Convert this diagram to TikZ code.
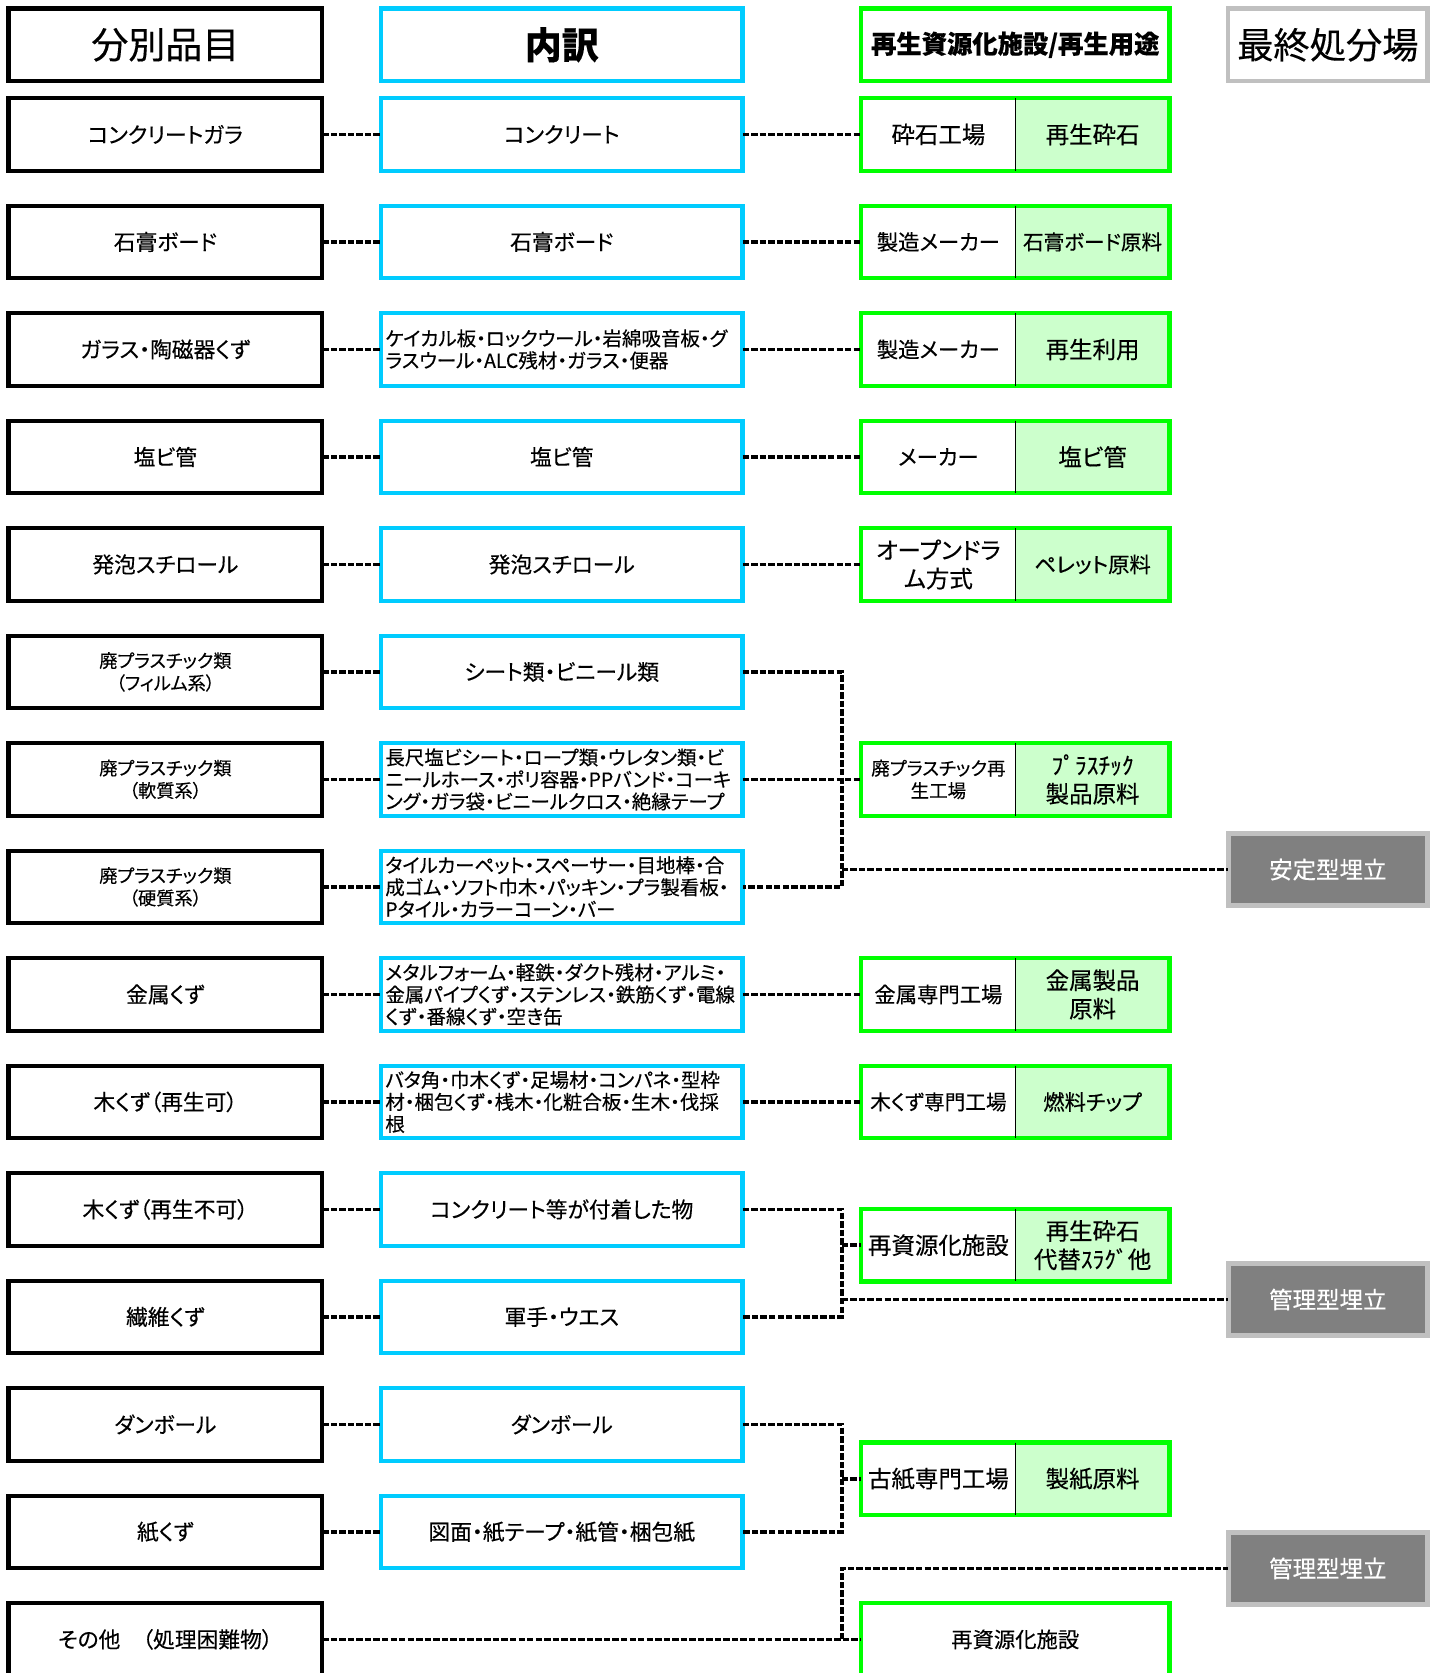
\documentclass[tikz,border=0pt]{standalone}
\usepackage{fontspec}
\setmainfont{Noto Sans CJK JP}[RawFeature=+palt,FakeBold=0.3]

\definecolor{boxcyan}{RGB}{0,204,255}
\definecolor{boxgreen}{RGB}{0,255,0}
\definecolor{palegreen}{RGB}{204,255,204}
\definecolor{pitgray}{RGB}{128,128,128}
\definecolor{rimgray}{RGB}{192,192,192}

\tikzset{every picture/.style={line width=0.75pt}}
\tikzset{
  catbox/.style={draw=black,line width=3pt,fill=white,minimum width=220.5pt,minimum height=51pt,
    inner sep=0pt,outer sep=0pt,align=center,font=\fontsize{15.3}{18}\selectfont},
  catsmall/.style={font=\fontsize{12.8}{15.75}\selectfont},
  detbox/.style={draw=boxcyan,line width=3pt,fill=white,minimum width=254.25pt,minimum height=51pt,
    inner sep=0pt,outer sep=0pt,align=center,font=\fontsize{15.3}{18}\selectfont},
  detlong/.style={align=left,text width=248pt,font=\fontsize{13.7}{15.5}\selectfont},
  facbox/.style={minimum width=108.75pt,minimum height=51pt,inner sep=0pt,outer sep=0pt,
    align=center,font=\fontsize{16.5}{20}\selectfont},
  usebox/.style={fill=palegreen,minimum width=108pt,minimum height=51pt,inner sep=0pt,outer sep=0pt,
    align=center,font=\fontsize{16.5}{20}\selectfont},
  grnbox/.style={draw=boxgreen,line width=3pt,fill=white,minimum width=216.75pt,minimum height=51pt,
    inner sep=0pt,outer sep=0pt,align=center,font=\fontsize{15}{18}\selectfont},
  grnline/.style={draw=boxgreen,line width=3pt},
  pitbox/.style={fill=pitgray,draw=rimgray,line width=3.5pt,text=white,minimum width=140.25pt,
    minimum height=51pt,inner sep=0pt,outer sep=0pt,font=\fontsize{16.5}{20}\selectfont},
  dashlink/.style={line width=2.4pt,dash pattern=on 4.5pt off 1.5pt}
}

\begin{document}
\begin{tikzpicture}[x=0.75pt,y=0.75pt,yscale=-1,xscale=1]
\clip (0,0) rectangle (1347,1568);

% Header row
\node[catbox,font=\fontsize{26}{30}\selectfont] (cat0) at (155,42) {分別品目};
\node[detbox,font=\bfseries\fontsize{26}{30}\selectfont] (det0) at (526.5,42) {内訳};
\node[grnbox,font=\bfseries\fontsize{17.8}{20}\selectfont] (fac0) at (951.5,42) {再生資源化施設/再生用途};
\node[draw=rimgray,line width=3pt,minimum width=140.25pt,minimum height=51pt,inner sep=0pt,
  outer sep=0pt,font=\fontsize{25.5}{30}\selectfont] (land0) at (1244.5,42) {最終処分場};

% Text Node -- sorted items
\node[catbox] (cat1) at (155,126) {コンクリートガラ};
\node[catbox] (cat2) at (155,226.75) {石膏ボード};
\node[catbox] (cat3) at (155,327.5) {ガラス・陶磁器くず};
\node[catbox] (cat4) at (155,428.25) {塩ビ管};
\node[catbox] (cat5) at (155,529) {発泡スチロール};
\node[catbox,catsmall] (cat6) at (155,629.75) {廃プラスチック類\\（フィルム系）};
\node[catbox,catsmall] (cat7) at (155,730.5) {廃プラスチック類\\（軟質系）};
\node[catbox,catsmall] (cat8) at (155,831.25) {廃プラスチック類\\（硬質系）};
\node[catbox] (cat9) at (155,932) {金属くず};
\node[catbox] (cat10) at (155,1032.75) {木くず（再生可）};
\node[catbox] (cat11) at (155,1133.5) {木くず（再生不可）};
\node[catbox] (cat12) at (155,1234.25) {繊維くず};
\node[catbox] (cat13) at (155,1335) {ダンボール};
\node[catbox] (cat14) at (155,1435.75) {紙くず};
\node[catbox] (cat15) at (155,1536.5) {その他　（処理困難物）};

% Text Node -- breakdown
\node[detbox] (det1) at (526.5,126) {コンクリート};
\node[detbox] (det2) at (526.5,226.75) {石膏ボード};
\node[detbox,detlong] (det3) at (526.5,327.5) {ケイカル板・ロックウール・岩綿吸音板・グ\\ラスウール・ALC残材・ガラス・便器};
\node[detbox] (det4) at (526.5,428.25) {塩ビ管};
\node[detbox] (det5) at (526.5,529) {発泡スチロール};
\node[detbox] (det6) at (526.5,629.75) {シート類・ビニール類};
\node[detbox,detlong] (det7) at (526.5,730.5) {長尺塩ビシート・ロープ類・ウレタン類・ビ\\ニールホース・ポリ容器・PPバンド・コーキ\\ング・ガラ袋・ビニールクロス・絶縁テープ};
\node[detbox,detlong] (det8) at (526.5,831.25) {タイルカーペット・スペーサー・目地棒・合\\成ゴム・ソフト巾木・パッキン・プラ製看板・\\Pタイル・カラーコーン・バー};
\node[detbox,detlong] (det9) at (526.5,932) {メタルフォーム・軽鉄・ダクト残材・アルミ・\\金属パイプくず・ステンレス・鉄筋くず・電線\\くず・番線くず・空き缶};
\node[detbox,detlong] (det10) at (526.5,1032.75) {バタ角・巾木くず・足場材・コンパネ・型枠\\材・梱包くず・桟木・化粧合板・生木・伐採\\根};
\node[detbox] (det11) at (526.5,1133.5) {コンクリート等が付着した物};
\node[detbox] (det12) at (526.5,1234.25) {軍手・ウエス};
\node[detbox] (det13) at (526.5,1335) {ダンボール};
\node[detbox] (det14) at (526.5,1435.75) {図面・紙テープ・紙管・梱包紙};

% Text Node -- facilities and uses
\node[facbox] (fac1) at (879.5,126) {砕石工場};
\node[usebox] (use1) at (1024,126) {再生砕石};
\node[facbox,font=\fontsize{15}{18}\selectfont] (fac2) at (879.5,226.75) {製造メーカー};
\node[usebox,font=\fontsize{14.5}{18}\selectfont] (use2) at (1024,226.75) {石膏ボード原料};
\node[facbox,font=\fontsize{15}{18}\selectfont] (fac3) at (879.5,327.5) {製造メーカー};
\node[usebox] (use3) at (1024,327.5) {再生利用};
\node[facbox,font=\fontsize{15}{18}\selectfont] (fac4) at (879.5,428.25) {メーカー};
\node[usebox] (use4) at (1024,428.25) {塩ビ管};
\node[facbox] (fac5) at (879.5,529) {オープンドラ\\ム方式};
\node[usebox,font=\fontsize{15}{18}\selectfont] (use5) at (1024,529) {ペレット原料};
\node[facbox,font=\fontsize{13}{15.75}\selectfont] (fac7) at (879.5,730.5) {廃プラスチック再\\生工場};
\node[usebox] (use7) at (1024,730.5) {ﾌﾟﾗｽﾁｯｸ\\製品原料};
\node[facbox,font=\fontsize{15}{18}\selectfont] (fac9) at (879.5,932) {金属専門工場};
\node[usebox] (use9) at (1024,932) {金属製品\\原料};
\node[facbox,font=\fontsize{14.5}{18}\selectfont] (fac10) at (879.5,1032.75) {木くず専門工場};
\node[usebox,font=\fontsize{15}{18}\selectfont] (use10) at (1024,1032.75) {燃料チップ};
\node[facbox] (fac11) at (879.5,1167) {再資源化施設};
\node[usebox] (use11) at (1024,1167) {再生砕石\\代替ｽﾗｸﾞ他};
\node[facbox] (fac13) at (879.5,1386) {古紙専門工場};
\node[usebox] (use13) at (1024,1386) {製紙原料};
\node[grnbox] (fac15) at (951.5,1536.5) {再資源化施設};

%Shape: Rectangle -- green frames
\draw[grnline] (fac1.north west) rectangle (use1.south east);
\draw (fac1.north east) -- (fac1.south east);
\draw[grnline] (fac2.north west) rectangle (use2.south east);
\draw (fac2.north east) -- (fac2.south east);
\draw[grnline] (fac3.north west) rectangle (use3.south east);
\draw (fac3.north east) -- (fac3.south east);
\draw[grnline] (fac4.north west) rectangle (use4.south east);
\draw (fac4.north east) -- (fac4.south east);
\draw[grnline] (fac5.north west) rectangle (use5.south east);
\draw (fac5.north east) -- (fac5.south east);
\draw[grnline] (fac7.north west) rectangle (use7.south east);
\draw (fac7.north east) -- (fac7.south east);
\draw[grnline] (fac9.north west) rectangle (use9.south east);
\draw (fac9.north east) -- (fac9.south east);
\draw[grnline] (fac10.north west) rectangle (use10.south east);
\draw (fac10.north east) -- (fac10.south east);
\draw[grnline] (fac11.north west) rectangle (use11.south east);
\draw (fac11.north east) -- (fac11.south east);
\draw[grnline] (fac13.north west) rectangle (use13.south east);
\draw (fac13.north east) -- (fac13.south east);

% Text Node -- landfill
\node[pitbox] (land1) at (1244.5,815) {安定型埋立};
\node[pitbox] (land2) at (1244.5,1218) {管理型埋立};
\node[pitbox] (land3) at (1244.5,1470) {管理型埋立};

% bracket points
\coordinate (jA) at (789,831.25);
\coordinate (jB) at (789,1234.25);
\coordinate (jC) at (789,1435.75);
\coordinate (jD) at (789,1536.5);

%Straight Lines -- sorted item to breakdown
\draw[dashlink] (cat1.east) -- (det1.west);
\draw[dashlink] (cat2.east) -- (det2.west);
\draw[dashlink] (cat3.east) -- (det3.west);
\draw[dashlink] (cat4.east) -- (det4.west);
\draw[dashlink] (cat5.east) -- (det5.west);
\draw[dashlink] (cat6.east) -- (det6.west);
\draw[dashlink] (cat7.east) -- (det7.west);
\draw[dashlink] (cat8.east) -- (det8.west);
\draw[dashlink] (cat9.east) -- (det9.west);
\draw[dashlink] (cat10.east) -- (det10.west);
\draw[dashlink] (cat11.east) -- (det11.west);
\draw[dashlink] (cat12.east) -- (det12.west);
\draw[dashlink] (cat13.east) -- (det13.west);
\draw[dashlink] (cat14.east) -- (det14.west);
\draw[dashlink] (cat15.east) -- (fac15.west);

%Straight Lines -- breakdown to facility
\draw[dashlink] (det1.east) -- (fac1.west);
\draw[dashlink] (det2.east) -- (fac2.west);
\draw[dashlink] (det3.east) -- (fac3.west);
\draw[dashlink] (det4.east) -- (fac4.west);
\draw[dashlink] (det5.east) -- (fac5.west);
\draw[dashlink] (det7.east) -- (fac7.west);
\draw[dashlink] (det9.east) -- (fac9.west);
\draw[dashlink] (det10.east) -- (fac10.west);

% plastics bracket
\draw[dashlink] (det6.east) -| (jA) -- (det8.east);
\draw[dashlink] (jA |- land1.west) -- (land1.west);

% wood and fibre bracket
\draw[dashlink] (det11.east) -| (jB) -- (det12.east);
\draw[dashlink] (jB |- fac11.west) -- (fac11.west);
\draw[dashlink] (jB |- land2.west) -- (land2.west);

% paper bracket
\draw[dashlink] (det13.east) -| (jC) -- (det14.east);
\draw[dashlink] (jC |- fac13.west) -- (fac13.west);

% others
\draw[dashlink] (jD) |- (land3.west);

\end{tikzpicture}
\end{document}
